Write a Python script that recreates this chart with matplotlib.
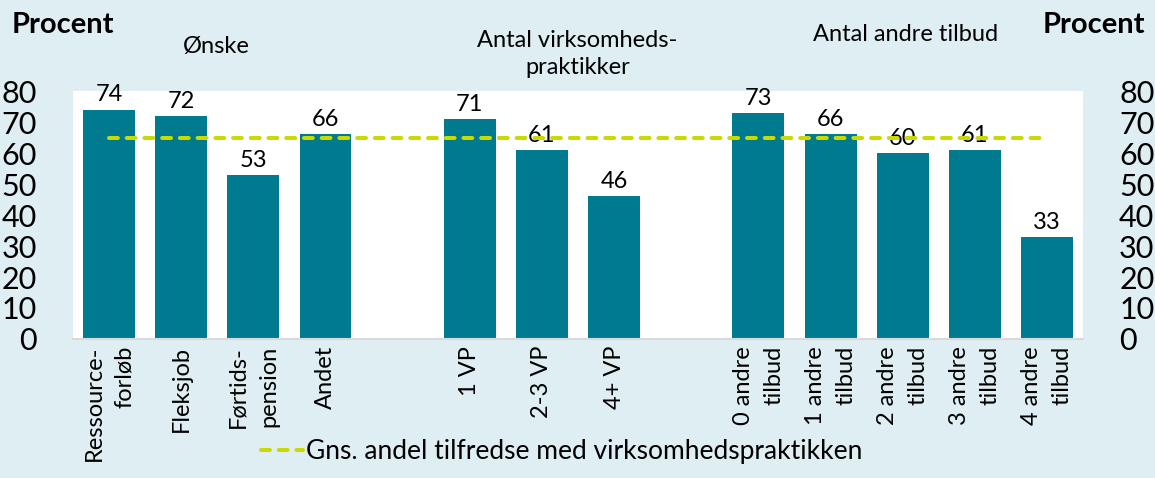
import matplotlib.pyplot as plt
import numpy as np

plt.rcParams['font.family'] = ['Lato', 'DejaVu Sans']

# --- data ---
group_titles = ['Ønske', 'Antal virksomheds-\npraktikker', 'Antal andre tilbud']
group_cats = [
    ['Ressource-\nforløb', 'Fleksjob', 'Førtids-\npension', 'Andet'],
    ['1 VP', '2-3 VP', '4+ VP'],
    ['0 andre\ntilbud', '1 andre\ntilbud', '2 andre\ntilbud', '3 andre\ntilbud', '4 andre\ntilbud'],
]
group_vals = [
    [74, 72, 53, 66],
    [71, 61, 46],
    [73, 66, 60, 61, 33],
]
avg_value = 65
avg_label = 'Gns. andel tilfredse med virksomhedspraktikken'

BG = '#DFEEF3'
BAR = '#007A8E'
LINE = '#C9DA00'

# positions: one empty slot between groups
pos, labels, vals = [], [], []
x = 0
for cats, vs in zip(group_cats, group_vals):
    for c, v in zip(cats, vs):
        pos.append(x)
        labels.append(c)
        vals.append(v)
        x += 1
    x += 1
pos = np.array(pos)

fig = plt.figure(figsize=(11.55, 4.78), dpi=100, facecolor=BG)
ax = fig.add_axes([0.0632, 0.2908, 0.8745, 0.5188])
ax.set_facecolor('white')

bars = ax.bar(pos, vals, width=0.72, color=BAR, zorder=2)
for b, v in zip(bars, vals):
    ax.annotate(f'{v}', (b.get_x() + b.get_width() / 2, v), xytext=(0, 3),
                textcoords='offset points', ha='center', va='bottom', fontsize=17)

ax.plot([pos[0], pos[-1]], [avg_value, avg_value], color=LINE, lw=2.9,
        dashes=(2.2, 2.2), dash_capstyle='round', zorder=3, label=avg_label)

ax.set_xlim(-0.5, pos[-1] + 0.5)
ax.set_ylim(0, 80)
ax.set_yticks(range(0, 81, 10))
ax.set_xticks(pos)
ax.set_xticklabels(labels, rotation=90, fontsize=17, multialignment='right',
                   linespacing=1.55)
ax.tick_params(axis='x', length=0, pad=5)
ax.tick_params(axis='y', length=0, labelsize=22, pad=26, labelright=True)
for s in ['top', 'left', 'right']:
    ax.spines[s].set_visible(False)
ax.spines['bottom'].set_color('#D9D9D9')
ax.spines['bottom'].set_linewidth(1.5)

fig.text(0.010, 0.948, 'Procent', fontsize=21, fontweight='bold', ha='left', va='center')
fig.text(0.9913, 0.948, 'Procent', fontsize=21, fontweight='bold', ha='right', va='center')

fig.text(0.187, 0.902, group_titles[0], fontsize=17, ha='center', va='center')
fig.text(0.500, 0.887, group_titles[1], fontsize=17, ha='center', va='center', linespacing=1.35)
fig.text(0.784, 0.927, group_titles[2], fontsize=17, ha='center', va='center')

fig.legend(loc='lower center', bbox_to_anchor=(0.486, -0.02), frameon=False,
           fontsize=19, handlelength=1.6, handletextpad=0.1)

fig.savefig('out.png', dpi=100, facecolor=BG)
